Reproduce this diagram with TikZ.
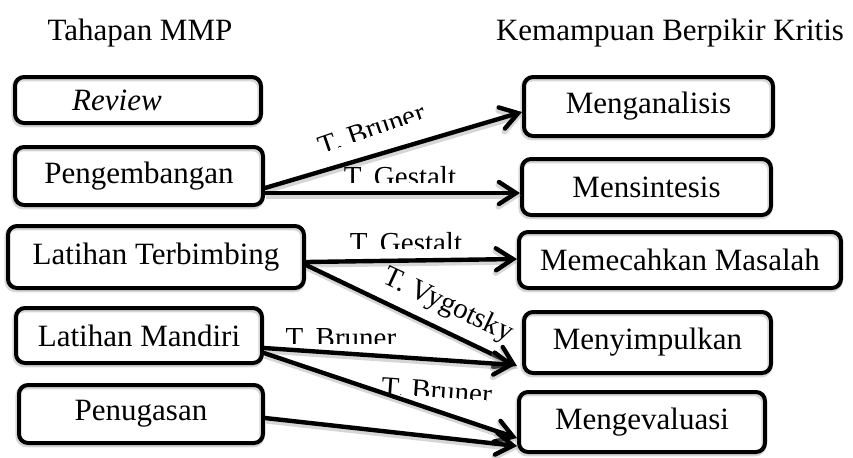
\documentclass[tikz,border=0pt]{standalone}
\usepackage{fontspec}
\setmainfont{Liberation Serif}
\usetikzlibrary{arrows.meta,calc}
\begin{document}
\begin{tikzpicture}[x=0.5pt,y=-0.5pt,
  box/.style={draw, line width=2pt, rounded corners=4.5pt,
    font=\fontsize{15.5}{18}\selectfont, inner sep=0pt, anchor=center,
    preaction={draw=black!35, line width=2.6pt, opacity=0.45,
      transform canvas={shift={(-0.5pt,-0.9pt)}}}},
  link/.style={line width=2.2pt, line cap=round,
    -{Straight Barb[length=8.5pt,width=11pt,line cap=round]},
    preaction={draw=black!40, line width=3pt, opacity=0.4,
      transform canvas={shift={(0.5pt,-1.3pt)}}}},
  lbl/.style={font=\fontsize{14.5}{17}\selectfont, inner sep=0pt,
    anchor=base, transform shape},
  head/.style={font=\fontsize{15.5}{18}\selectfont, inner sep=0pt, anchor=base}]
\useasboundingbox (0,0) rectangle (853,457);

% column headings
\node[head] (h1) at (140,40) {Tahapan MMP};
\node[head] (h2) at (670,40) {Kemampuan Berpikir Kritis};

% stages of MMP
\node[box, minimum width=123pt, minimum height=23pt] (rev) at (138,100) {\itshape Review\hspace*{21pt}};
\node[box, minimum width=124pt, minimum height=29pt] (peng) at (139,176) {Pengembangan};
\node[box, minimum width=148pt, minimum height=31pt] (lterb) at (156,257) {Latihan Terbimbing};
\node[box, minimum width=123pt, minimum height=27.5pt] (lmand) at (139,335.5) {Latihan Mandiri};
\node[box, minimum width=122pt, minimum height=29pt] (penug) at (141,414) {Penugasan};

% critical thinking skills
\node[box, minimum width=124.5pt, minimum height=29.5pt] (mang) at (648.5,106.5) {Menganalisis};
\node[box, minimum width=124.5pt, minimum height=28pt] (mens) at (646.5,187) {Mensintesis};
\node[box, minimum width=161pt, minimum height=28pt] (memec) at (680,260) {Memecahkan Masalah};
\node[box, minimum width=123.5pt, minimum height=30.5pt] (menyi) at (647.5,342.5) {Menyimpulkan};
\node[box, minimum width=123pt, minimum height=30pt] (mengev) at (642,422) {Mengevaluasi};

% connections
\draw[link] ([yshift=-6pt]peng.east) -- ([yshift=-2.75pt]mang.west);
\draw[link] ([yshift=-8.5pt]peng.east) -- ([yshift=-3pt]mens.west);
\draw[link] ([yshift=-2.5pt]lterb.east) -- ([yshift=0.5pt]memec.west);
\draw[link] ([yshift=-4pt]lterb.east) -- ([shift={(-2.5pt,-11.75pt)}]menyi.west);
\draw[link] ([yshift=-6.25pt]lmand.east) -- ([shift={(-3.5pt,-11.25pt)}]menyi.west);
\draw[link] ([yshift=-8.75pt]lmand.east) -- ([yshift=-8pt]mengev.west);
\draw[link] ([yshift=-2pt]penug.east) -- ([yshift=-12pt]mengev.west);

% theory labels (text boxes cut off just above the baseline)
\begin{scope}[shift={(375,138)}, rotate=19]
  \clip (-80,-40) rectangle (80,-3.5);
  \node[lbl] (t1) at (0,0) {T. Bruner};
\end{scope}
\begin{scope}[shift={(400,186)}]
  \clip (-80,-40) rectangle (80,-3.5);
  \node[lbl] (t2) at (0,0) {T. Gestalt};
\end{scope}
\begin{scope}[shift={(406,252)}]
  \clip (-80,-40) rectangle (80,-3.5);
  \node[lbl] (t3) at (0,0) {T. Gestalt};
\end{scope}
\node[lbl, rotate=-25] (t4) at (445,312) {T. Vygotsky};
\begin{scope}[shift={(341,347)}]
  \clip (-80,-40) rectangle (80,-3.5);
  \node[lbl] (t5) at (0,0) {T. Bruner};
\end{scope}
\begin{scope}[shift={(436,400)}, rotate=-4]
  \clip (-80,-40) rectangle (80,-3.5);
  \node[lbl] (t6) at (0,0) {T. Bruner};
\end{scope}
\end{tikzpicture}
\end{document}
